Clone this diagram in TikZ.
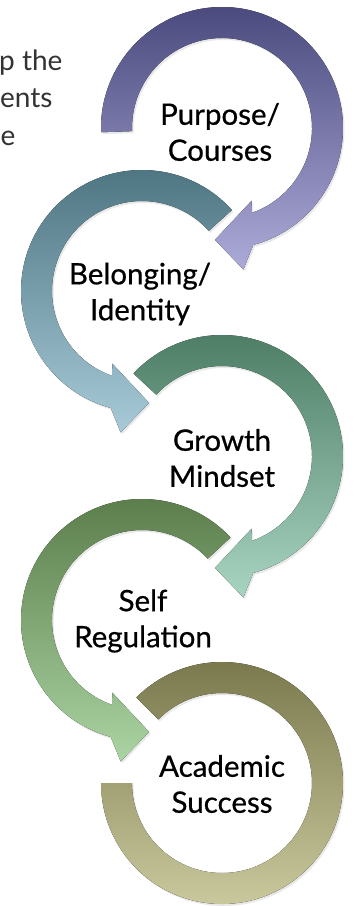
\documentclass[tikz,border=0pt]{standalone}
\usepackage{fontspec}
\setmainfont{Lato}
\newfontfamily\ringfont[FakeBold=0.6]{Lato}
\usepackage{xcolor}
\usetikzlibrary{shadows}

\definecolor{purpletop}{HTML}{4B4A7E}
\definecolor{purplebot}{HTML}{ABAAD8}
\definecolor{tealtop}{HTML}{4A727E}
\definecolor{tealbot}{HTML}{A8CAD8}
\definecolor{greentop}{HTML}{4A7A62}
\definecolor{greenbot}{HTML}{A8D4C2}
\definecolor{sagetop}{HTML}{587A48}
\definecolor{sagebot}{HTML}{AAD4A2}
\definecolor{olivetop}{HTML}{76764A}
\definecolor{olivebot}{HTML}{CDCCA0}

\begin{document}
\begin{tikzpicture}
  [x=1pt, y=1pt,
    ringtext/.style={align=center, font=\ringfont\fontsize{29.5}{36}\selectfont},
    introtext/.style={anchor=base east, text=black!80, font=\fontsize{28}{32}\selectfont},
    ring/.style={shading=axis, drop shadow={opacity=0.18, shadow xshift=1.5pt, shadow yshift=-2pt}}]
  \useasboundingbox (0,-906) rectangle (355,0);
  \fill[white] (0,-906) rectangle (355,0);
  \clip (0,-906) rectangle (355,0);

  % text cut off at the left edge
  \node[introtext] (intro1) at (66,-70) {p the};
  \node[introtext] (intro2) at (56,-107.5) {ents};
  \node[introtext] (intro3) at (19,-145) {e};
  \node[introtext] (intro4) at (5,-182.5) {n};

  \coordinate (ring1) at (222,-128);
  \coordinate (ring2) at (142,-291);
  \coordinate (ring3) at (222,-456);
  \coordinate (ring4) at (142,-620);
  \coordinate (ring5) at (222,-783);

  % circular arrows, clockwise ones drawn as is, the others mirrored
  \fill[ring, top color=purpletop, bottom color=purplebot, shift={(ring1)}]
    (182:90) -- (182:121) arc[start angle=182, end angle=-75, radius=121]
    -- (-81.4:143) -- (-93.6:112) -- (-67.8:78.5) -- (-70.6:90)
    arc[start angle=-70.6, end angle=182, radius=90] -- cycle;
  \fill[ring, top color=tealtop, bottom color=tealbot, shift={(ring2)}, xscale=-1]
    (138:90) -- (138:121) arc[start angle=138, end angle=-75, radius=121]
    -- (-81.4:143) -- (-93.6:112) -- (-67.8:78.5) -- (-70.6:90)
    arc[start angle=-70.6, end angle=138, radius=90] -- cycle;
  \fill[ring, top color=greentop, bottom color=greenbot, shift={(ring3)}]
    (137:90) -- (137:121) arc[start angle=137, end angle=-75, radius=121]
    -- (-81.4:143) -- (-93.6:112) -- (-67.8:78.5) -- (-70.6:90)
    arc[start angle=-70.6, end angle=137, radius=90] -- cycle;
  \fill[ring, top color=sagetop, bottom color=sagebot, shift={(ring4)}, xscale=-1]
    (137:90) -- (137:121) arc[start angle=137, end angle=-75, radius=121]
    -- (-81.4:143) -- (-93.6:112) -- (-67.8:78.5) -- (-70.6:90)
    arc[start angle=-70.6, end angle=137, radius=90] -- cycle;
  \fill[ring, top color=olivetop, bottom color=olivebot, shift={(ring5)}]
    (135:90) -- (135:121) arc[start angle=135, end angle=-180, radius=121]
    -- (-180:90) arc[start angle=-180, end angle=135, radius=90] -- cycle;

  \node[ringtext] (purpose) at (220,-132) {Purpose/\\Courses};
  \node[ringtext] (belonging) at (140,-294) {Belonging/\\Identity};
  \node[ringtext] (growth) at (222,-458) {Growth\\Mindset};
  \node[ringtext] (selfreg) at (143,-621) {Self\\Regulation};
  \node[ringtext] (academic) at (222,-784) {Academic\\Success};
\end{tikzpicture}
\end{document}
